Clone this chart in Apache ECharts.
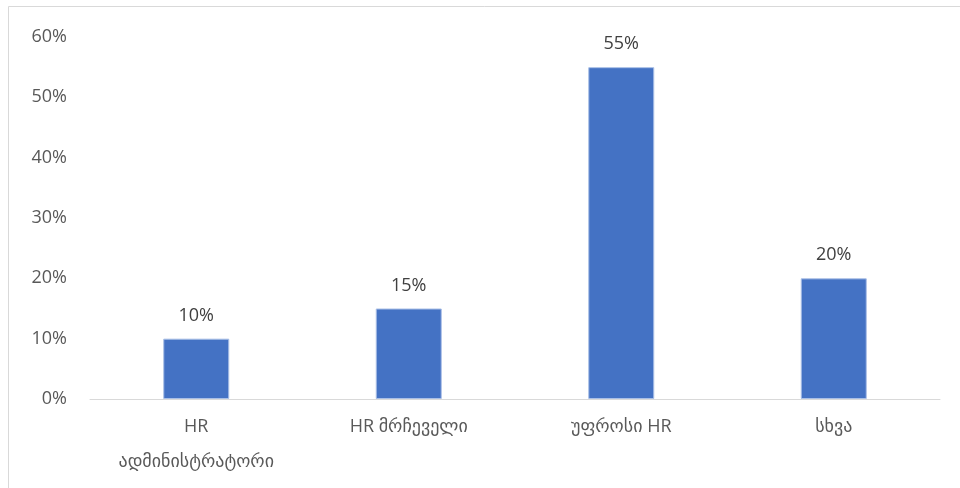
<!DOCTYPE html>
<html>
<head>
<meta charset="utf-8">
<script src="https://cdn.jsdelivr.net/npm/echarts@6/dist/echarts.min.js"></script>
<style>
  html, body { margin: 0; padding: 0; background: #fff; }
  #chart { width: 960px; height: 488px; }
</style>
</head>
<body>
<div id="chart"></div>
<script>
const categories = ['HR\nადმინისტრატორი', 'HR მრჩეველი', 'უფროსი HR', 'სხვა'];
const values = [10, 15, 55, 20];
const yTicks = [0, 10, 20, 30, 40, 50, 60];

const textColor = '#595959';
const fontFamily = '"Open Sans", "DejaVu Sans", sans-serif';

const chart = echarts.init(document.getElementById('chart'), null, { renderer: 'canvas' });

chart.setOption({
  animation: false,
  backgroundColor: '#fff',
  graphic: [{
    type: 'rect',
    shape: { x: 8.5, y: 6.5, width: 1000, height: 600 },
    style: { fill: 'none', stroke: '#d9d9d9', lineWidth: 1 },
    silent: true
  }],
  grid: { left: 90, right: 20, top: 37, bottom: 89, containLabel: false },
  xAxis: {
    type: 'category',
    data: categories,
    axisLine: { lineStyle: { color: '#d9d9d9', width: 1 } },
    axisTick: { show: false },
    axisLabel: {
      color: textColor,
      fontSize: 18,
      fontFamily: fontFamily,
      margin: 10,
      lineHeight: 35,
      interval: 0
    }
  },
  yAxis: {
    type: 'value',
    min: yTicks[0],
    max: yTicks[yTicks.length - 1],
    interval: 10,
    splitLine: { show: false },
    axisLine: { show: false },
    axisTick: { show: false },
    axisLabel: {
      color: textColor,
      fontSize: 18,
      fontFamily: fontFamily,
      margin: 23,
      formatter: v => v + '%'
    }
  },
  series: [{
    type: 'bar',
    data: values,
    barWidth: 66,
    itemStyle: { color: '#4472C4', borderColor: '#a9bfe6', borderWidth: 1 },
    label: {
      show: true,
      position: 'top',
      distance: 14,
      color: '#404040',
      fontSize: 18,
      fontFamily: fontFamily,
      formatter: p => p.value + '%'
    }
  }]
});
</script>
</body>
</html>
